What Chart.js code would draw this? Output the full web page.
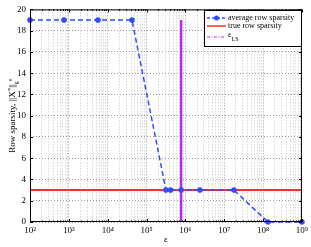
<!DOCTYPE html>
<html><head><meta charset="utf-8">
<script src="https://cdn.jsdelivr.net/npm/chart.js@4"></script>
<style>html,body{margin:0;padding:0;background:#fff}#wrap{width:311px;height:247px}</style>
</head><body><div id="wrap"><canvas id="c" width="311" height="247"></canvas></div>
<script>
const epsValues = [100, 750, 5623, 42170, 316228, 417000, 776000, 2371000, 17780000, 133400000, 1000000000];
const avgSparsity = [19, 19, 19, 19, 3, 3, 3, 3, 3, 0, 0];
const trueSparsity = 3;
const epsLS = 776000;
const epsLSTop = 19;
const xTickExps = [2, 3, 4, 5, 6, 7, 8, 9];
const yTicks = [0, 2, 4, 6, 8, 10, 12, 14, 16, 18, 20];
const legendLabels = ['average row sparsity', 'true row sparsity', 'ε'];

const SUP = {'0':'⁰','1':'¹','2':'²','3':'³','4':'⁴','5':'⁵','6':'⁶','7':'⁷','8':'⁸','9':'⁹'};
const BLUE = '#2f4cff', RED = '#ff2a2a', MAG = '#b02ee8';
const FONT = '"Liberation Serif", "DejaVu Serif", serif';

const avgData = epsValues.map((x, i) => ({x, y: avgSparsity[i]}));
const trueData = [{x: Math.pow(10, xTickExps[0]), y: trueSparsity}, {x: Math.pow(10, xTickExps[xTickExps.length-1]), y: trueSparsity}];
const lsData = [{x: epsLS, y: 0}, {x: epsLS, y: epsLSTop}];

const isMajor = v => Math.abs(Math.log10(v) - Math.round(Math.log10(v))) < 1e-6;

const frame = {
  id: 'frame',
  afterDraw(chart) {
    const {ctx, chartArea: a, scales} = chart;
    ctx.save();
    ctx.strokeStyle = '#000'; ctx.lineWidth = 1;
    ctx.strokeRect(a.left + 0.5, a.top + 0.5, a.right - a.left - 1, a.bottom - a.top - 1);
    ctx.beginPath();
    scales.y.ticks.forEach(t => {
      const y = Math.round(scales.y.getPixelForValue(t.value)) + 0.5;
      ctx.moveTo(a.left, y); ctx.lineTo(a.left + 3, y);
      ctx.moveTo(a.right, y); ctx.lineTo(a.right - 3, y);
    });
    scales.x.ticks.forEach(t => {
      const x = Math.round(scales.x.getPixelForValue(t.value)) + 0.5;
      const L = isMajor(t.value) ? 3 : 1.5;
      ctx.moveTo(x, a.bottom); ctx.lineTo(x, a.bottom - L);
      ctx.moveTo(x, a.top); ctx.lineTo(x, a.top + L);
    });
    ctx.stroke();
    // y axis title
    ctx.fillStyle = '#000';
    ctx.translate(13, (a.top + a.bottom) / 2);
    ctx.rotate(-Math.PI / 2);
    ctx.textBaseline = 'middle';
    const parts = [
      ['Row sparsity, ||X', 9, 0],
      ['*', 7, -3],
      ['||', 9, 0],
      ['g', 6, 3],
      ['0', 5, -2]
    ];
    let total = 0;
    parts.forEach(p => { ctx.font = p[1] + 'px ' + FONT; total += ctx.measureText(p[0]).width; });
    let x = -total / 2;
    parts.forEach(p => { ctx.font = p[1] + 'px ' + FONT; ctx.fillText(p[0], x, p[2]); x += ctx.measureText(p[0]).width; });
    ctx.restore();

    ctx.save();
    ctx.fillStyle = '#000';
    ctx.font = '9px ' + FONT;
    ctx.textAlign = 'center'; ctx.textBaseline = 'middle';
    ctx.fillText('ε', (a.left + a.right) / 2, 240);
    ctx.restore();

    // legend
    ctx.save();
    const lx = 204, ly = 10, lw = 97, lh = 36;
    ctx.fillStyle = '#fff'; ctx.fillRect(lx, ly, lw, lh);
    ctx.strokeStyle = '#000'; ctx.lineWidth = 1;
    ctx.strokeRect(lx + 0.5, ly + 0.5, lw, lh);
    const rows = [18, 26, 37];
    const sx0 = 207, sx1 = 226;
    ctx.strokeStyle = BLUE; ctx.lineWidth = 1.5; ctx.setLineDash([3, 2]);
    ctx.beginPath(); ctx.moveTo(sx0, rows[0]); ctx.lineTo(sx1, rows[0]); ctx.stroke();
    ctx.setLineDash([]);
    ctx.fillStyle = BLUE; ctx.beginPath(); ctx.arc((sx0 + sx1) / 2, rows[0], 2.5, 0, Math.PI * 2); ctx.fill();
    ctx.strokeStyle = RED; ctx.lineWidth = 1.5;
    ctx.beginPath(); ctx.moveTo(sx0, rows[1]); ctx.lineTo(sx1, rows[1]); ctx.stroke();
    ctx.strokeStyle = MAG; ctx.lineWidth = 1; ctx.setLineDash([3, 1.5, 1, 1.5]);
    ctx.beginPath(); ctx.moveTo(sx0, rows[2]); ctx.lineTo(sx1, rows[2]); ctx.stroke();
    ctx.setLineDash([]);
    ctx.fillStyle = '#000'; ctx.textBaseline = 'middle';
    ctx.font = '8px ' + FONT;
    ctx.fillText(legendLabels[0], 228, rows[0]);
    ctx.fillText(legendLabels[1], 228, rows[1]);
    ctx.fillText(legendLabels[2], 228, rows[2] - 2);
    ctx.font = '6px ' + FONT;
    ctx.fillText('LS', 231.5, rows[2] + 2.5);
    ctx.restore();
  }
};

const minorTicks = [];
xTickExps.forEach((e, i) => {
  for (let m = 1; m <= 9; m++) {
    if (i === xTickExps.length - 1 && m > 1) break;
    minorTicks.push(m * Math.pow(10, e));
  }
});

new Chart(document.getElementById('c'), {
  type: 'scatter',
  data: {
    datasets: [
      {data: trueData, showLine: true, borderColor: RED, borderWidth: 2, pointRadius: 0, clip: false, order: 2},
      {data: lsData, showLine: true, borderColor: MAG, borderWidth: 2.5, pointRadius: 0, clip: false, order: 1},
      {data: avgData, showLine: true, borderColor: BLUE, borderWidth: 1.5, borderDash: [5, 3],
       pointRadius: 2.8, pointBackgroundColor: BLUE, pointBorderColor: BLUE, pointBorderWidth: 0, clip: false, order: 0}
    ]
  },
  options: {
    responsive: false, animation: false, devicePixelRatio: 1,
    layout: {padding: {top: 6, right: 8, left: 0, bottom: 0}},
    plugins: {legend: {display: false}, tooltip: {enabled: false}},
    scales: {
      x: {
        type: 'logarithmic', min: 100, max: 1e9,
        afterBuildTicks(s) { s.ticks = minorTicks.map(v => ({value: v})); },
        afterFit(s) { s.height = 25; },
        border: {display: false, dash: [1, 2]},
        grid: {color: ctx => isMajor(ctx.tick.value) ? '#9a9a9a' : '#c4c4c4', lineWidth: 1, drawTicks: false},
        ticks: {
          autoSkip: false, maxRotation: 0, padding: 3, color: '#000',
          font: {family: FONT, size: 9},
          callback: v => isMajor(v) ? '10' + String(Math.round(Math.log10(v))).split('').map(c => SUP[c]).join('') : ''
        }
      },
      y: {
        min: 0, max: 20,
        afterBuildTicks(s) { s.ticks = yTicks.map(v => ({value: v})); },
        afterFit(s) { s.width = 30; },
        border: {display: false, dash: [1, 2]},
        grid: {color: '#9a9a9a', lineWidth: 1, drawTicks: false},
        ticks: {padding: 4, color: '#000', font: {family: FONT, size: 9}}
      }
    }
  },
  plugins: [frame]
});
</script>
</body></html>
